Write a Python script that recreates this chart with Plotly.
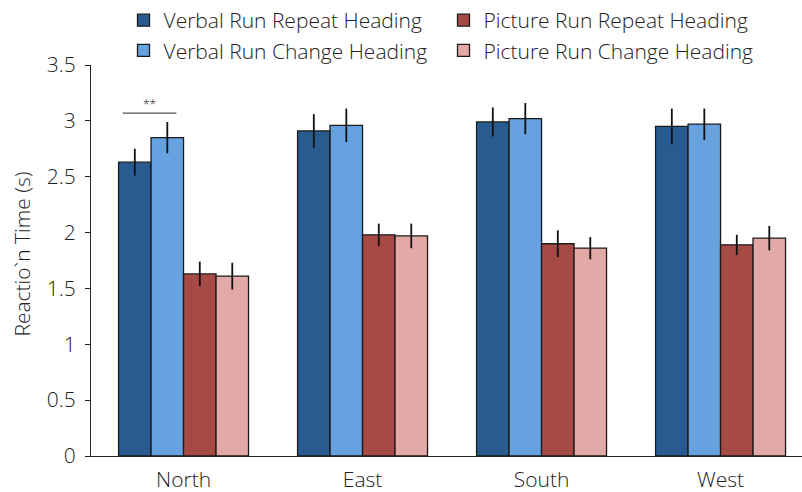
import plotly.graph_objects as go

categories = ["North", "East", "South", "West"]
series_names = ["Verbal Run Repeat Heading", "Verbal Run Change Heading",
                "Picture Run Repeat Heading", "Picture Run Change Heading"]
verbal_repeat = [2.63, 2.91, 2.99, 2.95]
verbal_change = [2.85, 2.96, 3.02, 2.97]
picture_repeat = [1.63, 1.98, 1.90, 1.89]
picture_change = [1.61, 1.97, 1.86, 1.95]
err_verbal_repeat = [0.12, 0.15, 0.13, 0.16]
err_verbal_change = [0.14, 0.15, 0.14, 0.14]
err_picture_repeat = [0.11, 0.10, 0.12, 0.09]
err_picture_change = [0.12, 0.11, 0.10, 0.11]
y_ticks = [0, 0.5, 1, 1.5, 2, 2.5, 3, 3.5]
y_tick_labels = ["0", "0.5", "1", "1.5", "2", "2.5", "3", "3.5"]

colors = ["#285C91", "#66A2DF", "#A64A45", "#E3A9A7"]
values = [verbal_repeat, verbal_change, picture_repeat, picture_change]
errors = [err_verbal_repeat, err_verbal_change, err_picture_repeat, err_picture_change]
ranks = [1, 3, 2, 4]

FONT = "Open Sans"
W = 300
FS = 21
fig = go.Figure()
for name, vals, errs, col, rk in zip(series_names, values, errors, colors, ranks):
    fig.add_trace(go.Bar(
        x=categories, y=vals, name=name, legendrank=rk,
        marker=dict(color=col, line=dict(color="#1a1a1a", width=1.3)),
        error_y=dict(type="data", array=errs, color="#111111", thickness=1.8, width=0),
    ))

fig.update_layout(
    width=802, height=492,
    margin=dict(l=91, r=0, t=65, b=36, autoexpand=False),
    paper_bgcolor="white", plot_bgcolor="white",
    barmode="group", bargap=0.274, bargroupgap=0,
    font=dict(family=FONT, size=FS, color="#222222", weight=W),
    showlegend=True,
    legend=dict(orientation="h", x=0.553, xanchor="center", xref="container",
                y=1.0, yanchor="top", yref="container",
                entrywidth=275, entrywidthmode="pixels",
                font=dict(family=FONT, size=FS, weight=W), traceorder="normal",
                bgcolor="rgba(0,0,0,0)"),
    xaxis=dict(range=[-0.517, 3.455], showline=True, linecolor="#222222", linewidth=1.3,
               ticks="", showgrid=False, zeroline=False, ticklabelstandoff=5,
               tickfont=dict(family=FONT, size=FS, weight=W), automargin=False),
    yaxis=dict(range=[0, 3.5], tickvals=y_ticks, ticktext=y_tick_labels,
               showline=True, linecolor="#222222", linewidth=1.3,
               ticks="outside", ticklen=5, tickwidth=1.3, tickcolor="#222222",
               showgrid=False, zeroline=False, ticklabelstandoff=5,
               tickfont=dict(family=FONT, size=FS, weight=W), automargin=False),
)

# y-axis title
fig.add_annotation(text="Reactio`n Time (s)", textangle=-90, xref="paper", yref="paper",
                   x=-0.0975, y=0.517, xanchor="center", yanchor="middle", showarrow=False,
                   font=dict(family=FONT, size=FS, weight=W, color="#222222"))

# significance bracket between the two verbal bars for North
sig_y = max(verbal_change[0] + err_verbal_change[0], verbal_repeat[0] + err_verbal_repeat[0]) + 0.08
fig.add_shape(type="line", xref="x", yref="y", x0=-0.34, x1=-0.04, y0=sig_y, y1=sig_y,
              line=dict(color="#555555", width=1.3))
fig.add_annotation(text="**", xref="x", yref="y", x=-0.19, y=sig_y, yanchor="bottom",
                   yshift=-2, showarrow=False, font=dict(family=FONT, size=12, color="#222222"))

fig.write_html("out.html", config={"displayModeBar": False},
               post_script="document.body.style.margin='0px';")
